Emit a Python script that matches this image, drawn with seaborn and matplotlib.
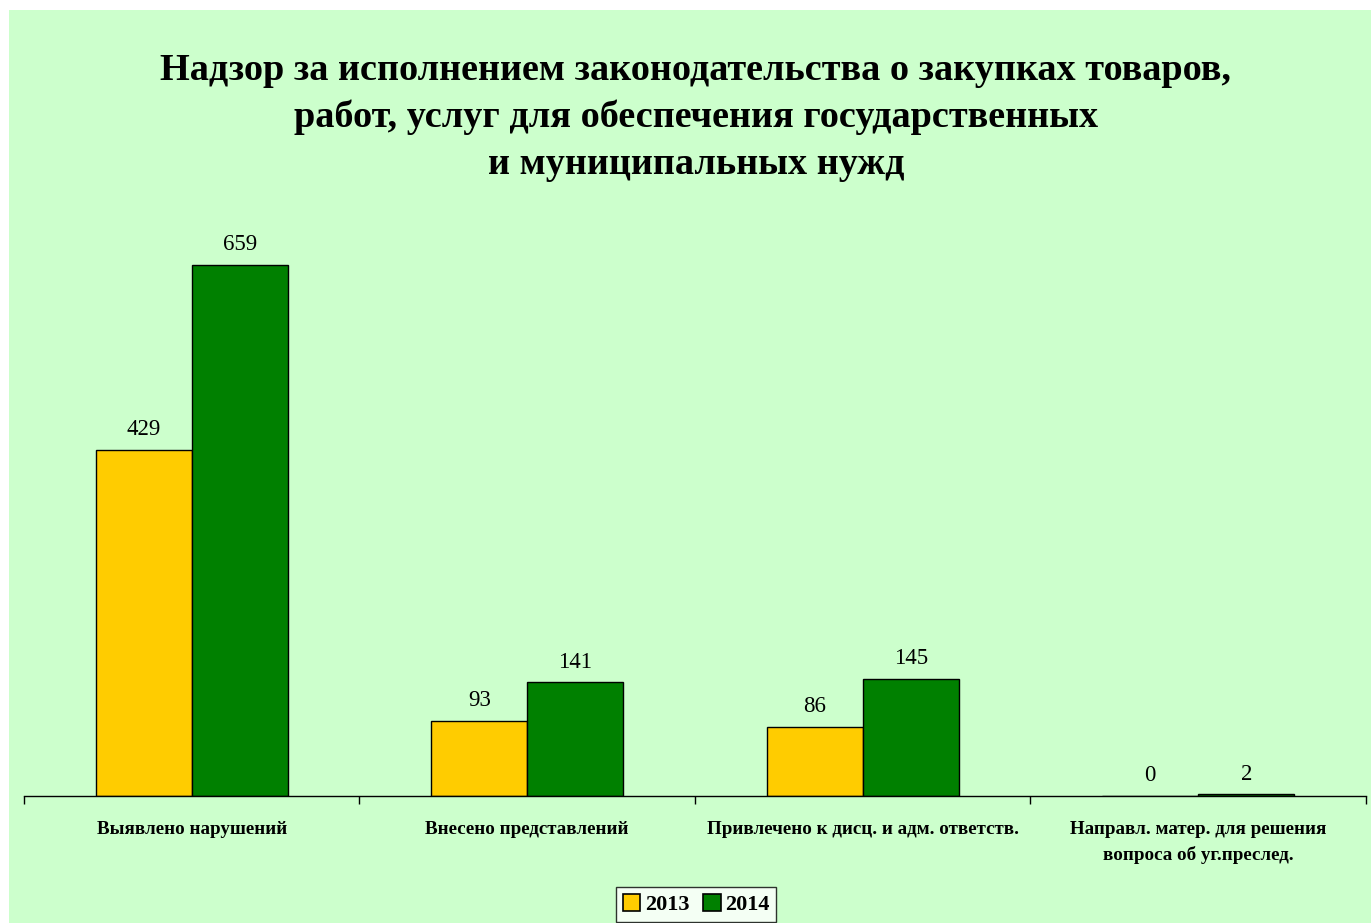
import pandas as pd
import matplotlib
matplotlib.use("Agg")
import matplotlib.pyplot as plt
import seaborn as sns
from matplotlib.patches import Rectangle

# Данные
categories = ['Выявлено нарушений', 'Внесено представлений',
              'Привлечено к дисц. и адм. ответств.',
              'Направл. матер. для решения\nвопроса об уг.преслед.']
years = ['2013', '2014']
values_2013 = [429, 93, 86, 0]
values_2014 = [659, 141, 145, 2]
colors = {'2013': '#FFCC00', '2014': '#008000'}

title = ('Надзор за исполнением законодательства о закупках товаров,\n'
         'работ, услуг для обеспечения государственных\n'
         'и муниципальных нужд')

df = pd.DataFrame({
    'Категория': categories * 2,
    'Год': [years[0]] * 4 + [years[1]] * 4,
    'Значение': values_2013 + values_2014,
})

sns.set_theme(style="white")
plt.rcParams['font.family'] = ['Liberation Serif', 'DejaVu Serif']
plt.rcParams['text.color'] = 'black'
plt.rcParams['xtick.color'] = 'black'

fig = plt.figure(figsize=(13.71, 9.23), dpi=100)
fig.patch.set_facecolor('white')
# зелёная подложка диаграммы
fig.patches.append(Rectangle((9 / 1371, 0), 1, 1 - 10 / 923, transform=fig.transFigure,
                             facecolor='#CCFFCC', edgecolor='none', zorder=-10))

ax = fig.add_axes([24 / 1371, 1 - 796 / 923, 1342 / 1371, (796 - 230) / 923])
ax.set_facecolor('none')

sns.barplot(data=df, x='Категория', y='Значение', hue='Год', hue_order=years,
            palette=colors, width=0.572, edgecolor='black', linewidth=1,
            saturation=1, ax=ax, legend=True)

ax.set_xlim(-0.5, 3.5)
ax.set_ylim(0, 702)
ax.set_xlabel('')
ax.set_ylabel('')
ax.set_yticks([])
for s in ['top', 'right', 'left']:
    ax.spines[s].set_visible(False)
ax.spines['bottom'].set_color('black')
ax.spines['bottom'].set_linewidth(1)

ax.set_xticks(range(4))
ax.set_xticklabels(categories, fontsize=13.7, fontweight='bold', linespacing=1.6)
ax.tick_params(axis='x', which='major', length=0, pad=18)
ax.set_xticks([-0.5, 0.5, 1.5, 2.5, 3.5], minor=True)
ax.tick_params(axis='x', which='minor', length=6, width=1, color='black', direction='out', bottom=True)

for cont in ax.containers:
    ax.bar_label(cont, padding=7, fontsize=16.5, color='black')

fig.text(696 / 1371, 1 - 53 / 923, title, ha='center', va='top', fontsize=27.5,
         fontweight='bold', linespacing=1.43)

leg = ax.get_legend()
leg.remove()
handles = [Rectangle((0, 0), 1, 1, facecolor=colors[y], edgecolor='black', linewidth=1.2) for y in years]
fig.legend(handles, years, loc='upper center', bbox_to_anchor=(696 / 1371, 1 - 887 / 923),
           ncol=2, frameon=True, fancybox=False, edgecolor='black', facecolor='white',
           prop={'size': 16, 'weight': 'bold'}, handlelength=0.8, handleheight=0.8,
           handletextpad=0.2, columnspacing=0.6, borderpad=0.3, borderaxespad=0)

fig.savefig('out.png', dpi=100)
